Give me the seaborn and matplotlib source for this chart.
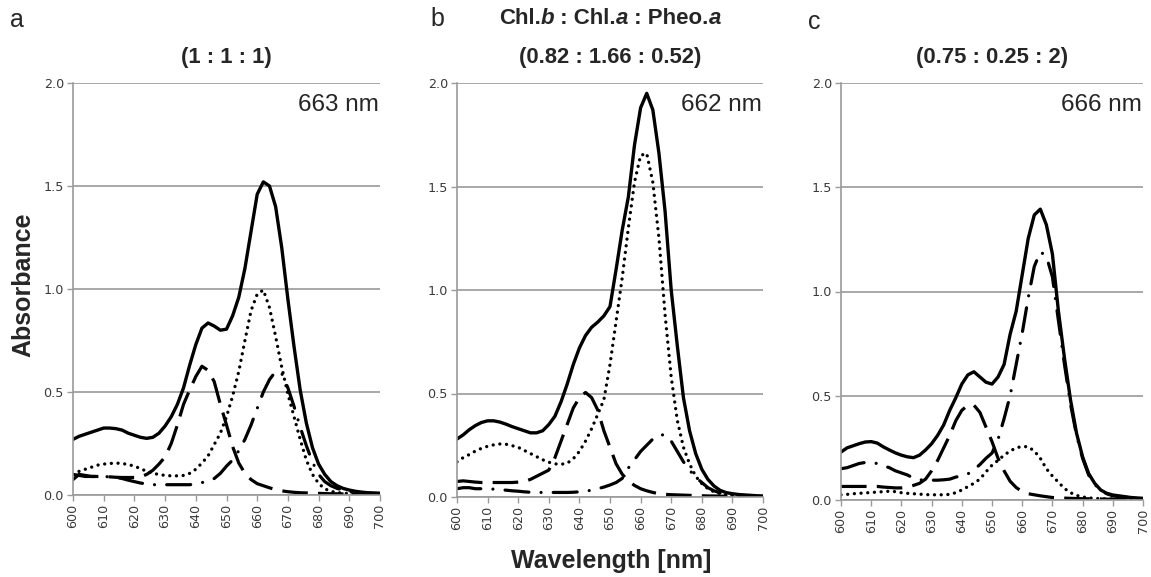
import numpy as np
import pandas as pd
import matplotlib
matplotlib.use("Agg")
import matplotlib.pyplot as plt
import seaborn as sns

# ---------------- data ----------------
wavelength = list(range(600, 701, 2))

a_mix = [0.27, 0.285, 0.295, 0.305, 0.315, 0.325, 0.325, 0.322, 0.315, 0.30,
         0.29, 0.28, 0.275, 0.28, 0.30, 0.335, 0.38, 0.44, 0.52, 0.63,
         0.73, 0.81, 0.835, 0.82, 0.80, 0.805, 0.87, 0.96, 1.10, 1.28,
         1.46, 1.52, 1.50, 1.40, 1.20, 0.95, 0.72, 0.51, 0.35, 0.23,
         0.15, 0.10, 0.065, 0.045, 0.032, 0.024, 0.018, 0.014, 0.011, 0.009, 0.008]
a_chla = [0.10, 0.115, 0.125, 0.135, 0.145, 0.15, 0.153, 0.155, 0.153, 0.148,
          0.14, 0.128, 0.115, 0.105, 0.10, 0.095, 0.093, 0.093, 0.095, 0.105,
          0.125, 0.155, 0.19, 0.245, 0.30, 0.38, 0.48, 0.60, 0.75, 0.895,
          0.975, 0.995, 0.91, 0.77, 0.62, 0.49, 0.38, 0.27, 0.17, 0.10,
          0.056, 0.03, 0.018, 0.012, 0.009, 0.007, 0.006, 0.005, 0.004, 0.003, 0.003]
a_chlb = [0.10, 0.095, 0.09, 0.09, 0.09, 0.09, 0.088, 0.086, 0.085, 0.085,
          0.085, 0.088, 0.10, 0.12, 0.15, 0.185, 0.25, 0.34, 0.44, 0.51,
          0.575, 0.625, 0.605, 0.55, 0.44, 0.34, 0.235, 0.155, 0.105, 0.075,
          0.055, 0.045, 0.035, 0.026, 0.02, 0.016, 0.013, 0.011, 0.01, 0.008,
          0.008, 0.007, 0.006, 0.006, 0.005, 0.005, 0.004, 0.004, 0.003, 0.003, 0.002]
a_pheo = [0.075, 0.10, 0.095, 0.09, 0.09, 0.09, 0.088, 0.085, 0.08, 0.072,
          0.065, 0.058, 0.054, 0.05, 0.05, 0.05, 0.05, 0.05, 0.05, 0.05,
          0.053, 0.06, 0.07, 0.08, 0.105, 0.14, 0.17, 0.215, 0.27, 0.34,
          0.42, 0.50, 0.56, 0.60, 0.59, 0.52, 0.43, 0.33, 0.24, 0.16,
          0.10, 0.065, 0.045, 0.032, 0.024, 0.016, 0.013, 0.011, 0.01, 0.009, 0.008]

b_mix = [0.28, 0.30, 0.325, 0.345, 0.36, 0.368, 0.368, 0.362, 0.352, 0.34,
         0.33, 0.32, 0.31, 0.31, 0.32, 0.35, 0.39, 0.46, 0.545, 0.64,
         0.72, 0.78, 0.82, 0.845, 0.875, 0.92, 1.10, 1.29, 1.45, 1.70,
         1.88, 1.95, 1.87, 1.66, 1.38, 1.00, 0.73, 0.48, 0.32, 0.21,
         0.134, 0.085, 0.053, 0.032, 0.021, 0.016, 0.012, 0.01, 0.008, 0.006, 0.005]
b_chla = [0.17, 0.19, 0.205, 0.222, 0.235, 0.245, 0.252, 0.256, 0.255, 0.248,
          0.24, 0.225, 0.21, 0.195, 0.18, 0.168, 0.16, 0.158, 0.163, 0.185,
          0.22, 0.27, 0.33, 0.40, 0.47, 0.64, 0.85, 1.06, 1.30, 1.52,
          1.65, 1.66, 1.52, 1.25, 0.88, 0.58, 0.37, 0.24, 0.16, 0.10,
          0.065, 0.04, 0.025, 0.016, 0.01, 0.007, 0.005, 0.004, 0.003, 0.003, 0.002]
b_chlb = [0.075, 0.078, 0.075, 0.072, 0.07, 0.07, 0.07, 0.07, 0.07, 0.07,
          0.072, 0.075, 0.085, 0.10, 0.115, 0.13, 0.19, 0.27, 0.35, 0.43,
          0.48, 0.505, 0.48, 0.42, 0.32, 0.24, 0.16, 0.11, 0.077, 0.056,
          0.04, 0.03, 0.022, 0.016, 0.013, 0.011, 0.01, 0.009, 0.008, 0.007,
          0.006, 0.005, 0.005, 0.004, 0.004, 0.003, 0.003, 0.002, 0.002, 0.002, 0.002]
b_pheo = [0.04, 0.045, 0.045, 0.04, 0.04, 0.04, 0.038, 0.035, 0.033, 0.03,
          0.028, 0.025, 0.023, 0.022, 0.022, 0.022, 0.022, 0.022, 0.022, 0.023,
          0.025, 0.028, 0.033, 0.04, 0.048, 0.058, 0.07, 0.09, 0.14, 0.18,
          0.22, 0.25, 0.28, 0.30, 0.30, 0.27, 0.22, 0.17, 0.13, 0.095,
          0.07, 0.045, 0.03, 0.02, 0.013, 0.01, 0.007, 0.005, 0.004, 0.003, 0.002]

c_mix = [0.23, 0.25, 0.26, 0.27, 0.278, 0.28, 0.273, 0.255, 0.24, 0.226,
         0.215, 0.207, 0.203, 0.215, 0.24, 0.27, 0.31, 0.36, 0.43, 0.49,
         0.556, 0.60, 0.615, 0.59, 0.565, 0.556, 0.59, 0.65, 0.795, 0.905,
         1.08, 1.255, 1.367, 1.395, 1.32, 1.18, 0.905, 0.68, 0.48, 0.32,
         0.207, 0.127, 0.08, 0.048, 0.032, 0.024, 0.02, 0.016, 0.012, 0.01, 0.008]
c_chla = [0.025, 0.027, 0.03, 0.032, 0.034, 0.036, 0.038, 0.04, 0.042, 0.04,
          0.035, 0.032, 0.03, 0.028, 0.026, 0.025, 0.025, 0.025, 0.027, 0.035,
          0.048, 0.064, 0.08, 0.10, 0.135, 0.167, 0.19, 0.215, 0.235, 0.25,
          0.257, 0.255, 0.235, 0.20, 0.15, 0.115, 0.085, 0.055, 0.035, 0.022,
          0.015, 0.01, 0.008, 0.006, 0.005, 0.005, 0.004, 0.003, 0.003, 0.002, 0.002]
c_chlb = [0.065, 0.065, 0.065, 0.065, 0.065, 0.065, 0.065, 0.062, 0.06, 0.058,
          0.058, 0.062, 0.07, 0.08, 0.10, 0.14, 0.19, 0.25, 0.31, 0.38,
          0.43, 0.455, 0.455, 0.42, 0.35, 0.28, 0.20, 0.14, 0.09, 0.06,
          0.04, 0.03, 0.025, 0.02, 0.016, 0.012, 0.01, 0.009, 0.008, 0.007,
          0.006, 0.006, 0.005, 0.005, 0.004, 0.004, 0.003, 0.003, 0.002, 0.002, 0.002]
c_pheo = [0.15, 0.155, 0.165, 0.175, 0.18, 0.18, 0.175, 0.165, 0.155, 0.14,
          0.13, 0.12, 0.105, 0.097, 0.095, 0.095, 0.095, 0.097, 0.10, 0.11,
          0.115, 0.125, 0.145, 0.17, 0.20, 0.225, 0.29, 0.39, 0.50, 0.65,
          0.80, 0.97, 1.12, 1.19, 1.17, 1.07, 0.86, 0.65, 0.46, 0.31,
          0.20, 0.12, 0.075, 0.045, 0.03, 0.02, 0.016, 0.013, 0.01, 0.008, 0.006]

panel_letters = ["a", "b", "c"]
ratio_titles = ["(1 : 1 : 1)", "(0.82 : 1.66 : 0.52)", "(0.75 : 0.25 : 2)"]
peak_labels = ["663 nm", "662 nm", "666 nm"]
x_ticks = list(range(600, 701, 10))
y_ticks = [0.0, 0.5, 1.0, 1.5, 2.0]
y_ticklabels = ["0.0", "0.5", "1.0", "1.5", "2.0"]

panels = [
    dict(mix=a_mix, chla=a_chla, chlb=a_chlb, pheo=a_pheo),
    dict(mix=b_mix, chla=b_chla, chlb=b_chlb, pheo=b_pheo),
    dict(mix=c_mix, chla=c_chla, chlb=c_chlb, pheo=c_pheo),
]

# ---------------- style ----------------
sns.set_theme(style="white")
plt.rcParams["font.family"] = ["Liberation Sans", "DejaVu Sans"]

W, H = 1151, 577
fig = plt.figure(figsize=(W / 100, H / 100), dpi=100)

# axes boxes in pixels: left, right, top, bottom
boxes = [(73, 380, 83, 495), (457, 763, 83, 497), (841, 1143, 83, 500)]

grid_col = "#9a9a9a"
tick_col = "#3a3a3a"

series_styles = {
    "mix": dict(linestyle="-", lw=2.4),
    "chlb": dict(linestyle=(0, (8, 3.2)), lw=2.3, dash_capstyle="butt"),
    "chla": dict(linestyle=(0, (0.01, 2.0)), lw=2.4, dash_capstyle="round"),
    "pheo": dict(linestyle=(0, (7.5, 3.8, 0.01, 3.8)), lw=2.3, dash_capstyle="round"),
}

axes = []
for i, (l, r, t, b) in enumerate(boxes):
    ax = fig.add_axes([l / W, 1 - b / H, (r - l) / W, (b - t) / H])
    axes.append(ax)
    d = panels[i]
    for key in ["chlb", "pheo", "chla", "mix"]:
        st = series_styles[key]
        sns.lineplot(x=wavelength, y=d[key], ax=ax, color="black",
                     linestyle=st["linestyle"], lw=st["lw"],
                     **({"dash_capstyle": st["dash_capstyle"]} if "dash_capstyle" in st else {}),
                     solid_capstyle="round", solid_joinstyle="round")
    ax.set_xlim(600, 700)
    ax.set_ylim(0, 2.0)
    ax.set_xticks(x_ticks)
    ax.set_xticklabels([str(v) for v in x_ticks], rotation=90,
                       fontfamily="DejaVu Sans", fontsize=9.2, color=tick_col)
    ax.set_yticks(y_ticks)
    ax.set_yticklabels(y_ticklabels, fontfamily="DejaVu Sans", fontsize=9.2, color=tick_col)
    ax.yaxis.grid(True, color=grid_col, lw=1.2)
    ax.xaxis.grid(False)
    ax.set_axisbelow(True)
    for s in ["top", "right"]:
        ax.spines[s].set_visible(False)
    for s in ["left", "bottom"]:
        ax.spines[s].set_color(grid_col)
        ax.spines[s].set_linewidth(1.2)
    ax.tick_params(axis="both", which="major", direction="out", length=4,
                   width=1.0, color=grid_col, pad=2.5, bottom=True, left=True)
    ax.set_xlabel("")
    ax.set_ylabel("")
    ax.text(0.995, (b - 105) / (b - t), peak_labels[i], transform=ax.transAxes,
            ha="right", va="center", fontsize=17.5, family="Liberation Sans")
    xc = (l + r) / 2 / W
    fig.text(xc, 1 - 57 / H, ratio_titles[i], ha="center", va="center",
             fontsize=15.8, fontweight="bold", family="Liberation Sans")

# panel letters
fig.text(17 / W, 1 - 20 / H, panel_letters[0], ha="center", va="center", fontsize=18)
fig.text(437 / W, 1 - 19 / H, panel_letters[1], ha="center", va="center", fontsize=18)
fig.text(814 / W, 1 - 22 / H, panel_letters[2], ha="center", va="center", fontsize=18)

# rich title for panel b with italic letters
fig.canvas.draw()
renderer = fig.canvas.get_renderer()
pieces = [("Chl.", "normal"), ("b", "italic"), (" : Chl.", "normal"),
          ("a", "italic"), (" : Pheo.", "normal"), ("a", "italic")]
texts = []
for s, style in pieces:
    tx = fig.text(0, 1 - 19 / H, s, ha="left", va="center", fontsize=16,
                  fontweight="bold", fontstyle=style, family="Liberation Sans")
    texts.append(tx)
widths = [tx.get_window_extent(renderer).width for tx in texts]
total = sum(widths)
xpos = (457 + 763) / 2 - total / 2
for tx, wdt in zip(texts, widths):
    tx.set_x(xpos / W)
    xpos += wdt

fig.text(23 / W, 1 - 285 / H, "Absorbance", rotation=90, ha="center", va="center",
         fontsize=18, fontweight="bold", family="Liberation Sans")
fig.text(611 / W, 1 - 561 / H, "Wavelength [nm]", ha="center", va="center",
         fontsize=18, fontweight="bold", family="Liberation Sans")

fig.savefig("out.png", dpi=100, facecolor="white")
